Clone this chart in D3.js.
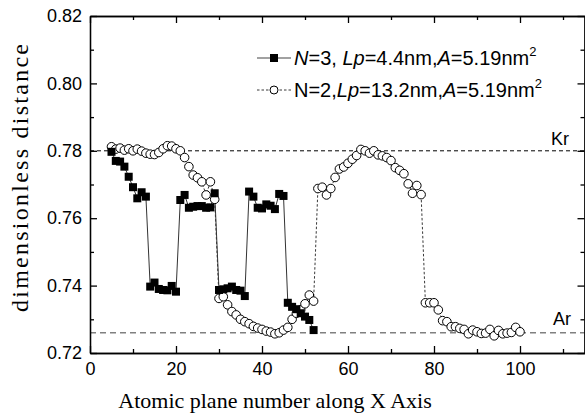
<!DOCTYPE html>
<meta charset="utf-8">
<style>
  body { margin: 0; background: #fff; }
  text { font-family: "Liberation Sans", Arial, sans-serif; fill: #000; }
  .serif { font-family: "Liberation Serif", "Times New Roman", serif; }
  .axis path, .axis line { stroke: #000; stroke-width: 1.3px; }
  .axis text { font-size: 18px; }
</style>
<svg width="585" height="417"></svg>
<script src="https://d3js.org/d3.v7.min.js"></script>
<script>
  // tick labels
  var xTicks = [0, 20, 40, 60, 80, 100];
  var xMinor = [10, 30, 50, 70, 90, 110];
  var yTicks = [0.72, 0.74, 0.76, 0.78, 0.80, 0.82];
  var yMinor = [0.73, 0.75, 0.77, 0.79, 0.81];

  // reference levels
  var krLevel = 0.78, arLevel = 0.726;

  // N=3, Lp=4.4nm  (planes 5..52)
  var n3Start = 5;
  var n3Values = [0.7797, 0.7770, 0.7768, 0.7753, 0.7723, 0.7692, 0.7659, 0.7677, 0.7664,
    0.7397, 0.7409, 0.7390, 0.7387, 0.7386, 0.7399, 0.7382,
    0.7654, 0.7669, 0.7631, 0.7634, 0.7636, 0.7636, 0.7631, 0.7632, 0.7674,
    0.7387, 0.7389, 0.7392, 0.7397, 0.7387, 0.7385, 0.7369,
    0.7679, 0.7664, 0.7631, 0.7629, 0.7641, 0.7637, 0.7627, 0.7672, 0.7666,
    0.7349, 0.7337, 0.7330, 0.7318, 0.7308, 0.7298, 0.7268];

  // N=2, Lp=13.2nm  (planes 5..100)
  var n2Start = 5;
  var n2Values = [0.7812, 0.7805, 0.7808, 0.7802, 0.7806, 0.7800, 0.7805, 0.7799, 0.7793, 0.7790,
    0.7789, 0.7795, 0.7806, 0.7815, 0.7814, 0.7806, 0.7800, 0.7780, 0.7753, 0.7728,
    0.7720, 0.7708, 0.7669, 0.7708, 0.7656, 0.7362, 0.7367, 0.7343, 0.7323, 0.7313,
    0.7300, 0.7293, 0.7287, 0.7279, 0.7274, 0.7270, 0.7265, 0.7262, 0.7257, 0.7260,
    0.7268, 0.7276, 0.7300, 0.7318, 0.7328, 0.7346, 0.7372, 0.7354, 0.7688, 0.7692,
    0.7669, 0.7688, 0.7721, 0.7746, 0.7752, 0.7763, 0.7775, 0.7786, 0.7804, 0.7800,
    0.7793, 0.7800, 0.7788, 0.7785, 0.7780, 0.7771, 0.7750, 0.7742, 0.7732, 0.7702,
    0.7674, 0.7697, 0.7670, 0.7349, 0.7349, 0.7349, 0.7328, 0.7296, 0.7293, 0.7278,
    0.7278, 0.7273, 0.7270, 0.7257, 0.7268, 0.7263, 0.7258, 0.7259, 0.7270, 0.7251,
    0.7267, 0.7257, 0.7259, 0.7261, 0.7276, 0.7263];

  var svg = d3.select("svg");
  var plotLeft = 90, plotRight = 584.5, plotTop = 16, plotBottom = 353;

  var x = d3.scaleLinear().domain([0, 115]).range([plotLeft, plotRight]);
  var y = d3.scaleLinear().domain([0.72, 0.82]).range([plotBottom, plotTop]);

  var n3 = n3Values.map(function(v, i) { return {x: n3Start + i, y: v}; });
  var n2 = n2Values.map(function(v, i) { return {x: n2Start + i, y: v}; });

  // reference lines
  svg.append("line")
    .attr("x1", plotLeft).attr("x2", plotRight)
    .attr("y1", y(krLevel)).attr("y2", y(krLevel))
    .attr("stroke", "#000").attr("stroke-width", 1)
    .attr("stroke-dasharray", "4,3");
  svg.append("line")
    .attr("x1", plotLeft).attr("x2", plotRight)
    .attr("y1", y(arLevel)).attr("y2", y(arLevel))
    .attr("stroke", "#808080").attr("stroke-width", 1.5)
    .attr("stroke-dasharray", "6,4");

  svg.append("text").attr("x", 569).attr("y", 145)
    .attr("text-anchor", "end").style("font-size", "18px").text("Kr");
  svg.append("text").attr("x", 571).attr("y", 325)
    .attr("text-anchor", "end").style("font-size", "18px").text("Ar");

  // axes (ticks point inward)
  function drawAxis(axis, tx, ty) {
    svg.append("g").attr("class", "axis")
      .attr("transform", "translate(" + tx + "," + ty + ")")
      .call(axis);
  }
  drawAxis(d3.axisBottom(x).tickValues(xTicks).tickSize(-7).tickSizeOuter(0).tickPadding(9), 0, plotBottom);
  drawAxis(d3.axisBottom(x).tickValues(xMinor).tickSize(-4).tickSizeOuter(0).tickFormat(""), 0, plotBottom);
  drawAxis(d3.axisTop(x).tickValues(xTicks).tickSize(-7).tickSizeOuter(0).tickFormat(""), 0, plotTop);
  drawAxis(d3.axisTop(x).tickValues(xMinor).tickSize(-4).tickSizeOuter(0).tickFormat(""), 0, plotTop);
  drawAxis(d3.axisLeft(y).tickValues(yTicks).tickSize(-7).tickSizeOuter(0).tickPadding(8).tickFormat(d3.format(".2f")), plotLeft, 0);
  drawAxis(d3.axisLeft(y).tickValues(yMinor).tickSize(-4).tickSizeOuter(0).tickFormat(""), plotLeft, 0);
  drawAxis(d3.axisRight(y).tickValues(yTicks).tickSize(-7).tickSizeOuter(0).tickFormat(""), plotRight, 0);
  drawAxis(d3.axisRight(y).tickValues(yMinor).tickSize(-4).tickSizeOuter(0).tickFormat(""), plotRight, 0);

  // N=2 series: thin dashed line with open circles
  var line = d3.line().x(function(d) { return x(d.x); }).y(function(d) { return y(d.y); });
  svg.append("path").datum(n2)
    .attr("d", line).attr("fill", "none")
    .attr("stroke", "#222").attr("stroke-width", 0.9)
    .attr("stroke-dasharray", "2.5,2");

  // N=3 series: solid line with filled squares
  svg.append("path").datum(n3)
    .attr("d", line).attr("fill", "none")
    .attr("stroke", "#333").attr("stroke-width", 1);

  svg.append("g").selectAll("circle").data(n2).enter().append("circle")
    .attr("cx", function(d) { return x(d.x); })
    .attr("cy", function(d) { return y(d.y); })
    .attr("r", 4.3).attr("fill", "#fff").attr("stroke", "#000").attr("stroke-width", 1);

  var sq = 8;
  svg.append("g").selectAll("rect").data(n3).enter().append("rect")
    .attr("x", function(d) { return x(d.x) - sq / 2; })
    .attr("y", function(d) { return y(d.y) - sq / 2; })
    .attr("width", sq).attr("height", sq).attr("fill", "#000");

  // legend
  var lg = svg.append("g");
  lg.append("line").attr("x1", 257).attr("x2", 291).attr("y1", 58).attr("y2", 58)
    .attr("stroke", "#444").attr("stroke-width", 1.2);
  lg.append("rect").attr("x", 270).attr("y", 54).attr("width", 8).attr("height", 8).attr("fill", "#000");
  lg.append("line").attr("x1", 257).attr("x2", 291).attr("y1", 90).attr("y2", 90)
    .attr("stroke", "#222").attr("stroke-width", 0.9).attr("stroke-dasharray", "2.5,2");
  lg.append("circle").attr("cx", 274).attr("cy", 90).attr("r", 4)
    .attr("fill", "#fff").attr("stroke", "#000");

  function legendText(yPos, parts) {
    var t = lg.append("text").attr("x", 294).attr("y", yPos).style("font-size", "20px");
    parts.forEach(function(p) {
      var s = t.append("tspan").text(p[0]);
      if (p[1] === "i") s.style("font-style", "italic");
      if (p[1] === "sup") s.style("font-size", "13px").attr("dy", -9);
    });
  }
  legendText(65, [["N", "i"], ["=3, "], ["Lp", "i"], ["=4.4nm,"], ["A", "i"], ["=5.19nm"], ["2", "sup"]]);
  legendText(97, [["N=2,"], ["Lp", "i"], ["=13.2nm,"], ["A", "i"], ["=5.19nm"], ["2", "sup"]]);

  // axis titles
  svg.append("text").attr("class", "serif")
    .attr("transform", "translate(28,178) rotate(-90)")
    .attr("text-anchor", "middle")
    .attr("textLength", 268).attr("lengthAdjust", "spacing")
    .style("font-size", "24px")
    .attr("fill", "#555")
    .text("dimensionless distance");
  svg.append("text").attr("class", "serif")
    .attr("x", 275).attr("y", 408)
    .attr("text-anchor", "middle")
    .style("font-size", "22px")
    .text("Atomic plane number along X Axis");
</script>
